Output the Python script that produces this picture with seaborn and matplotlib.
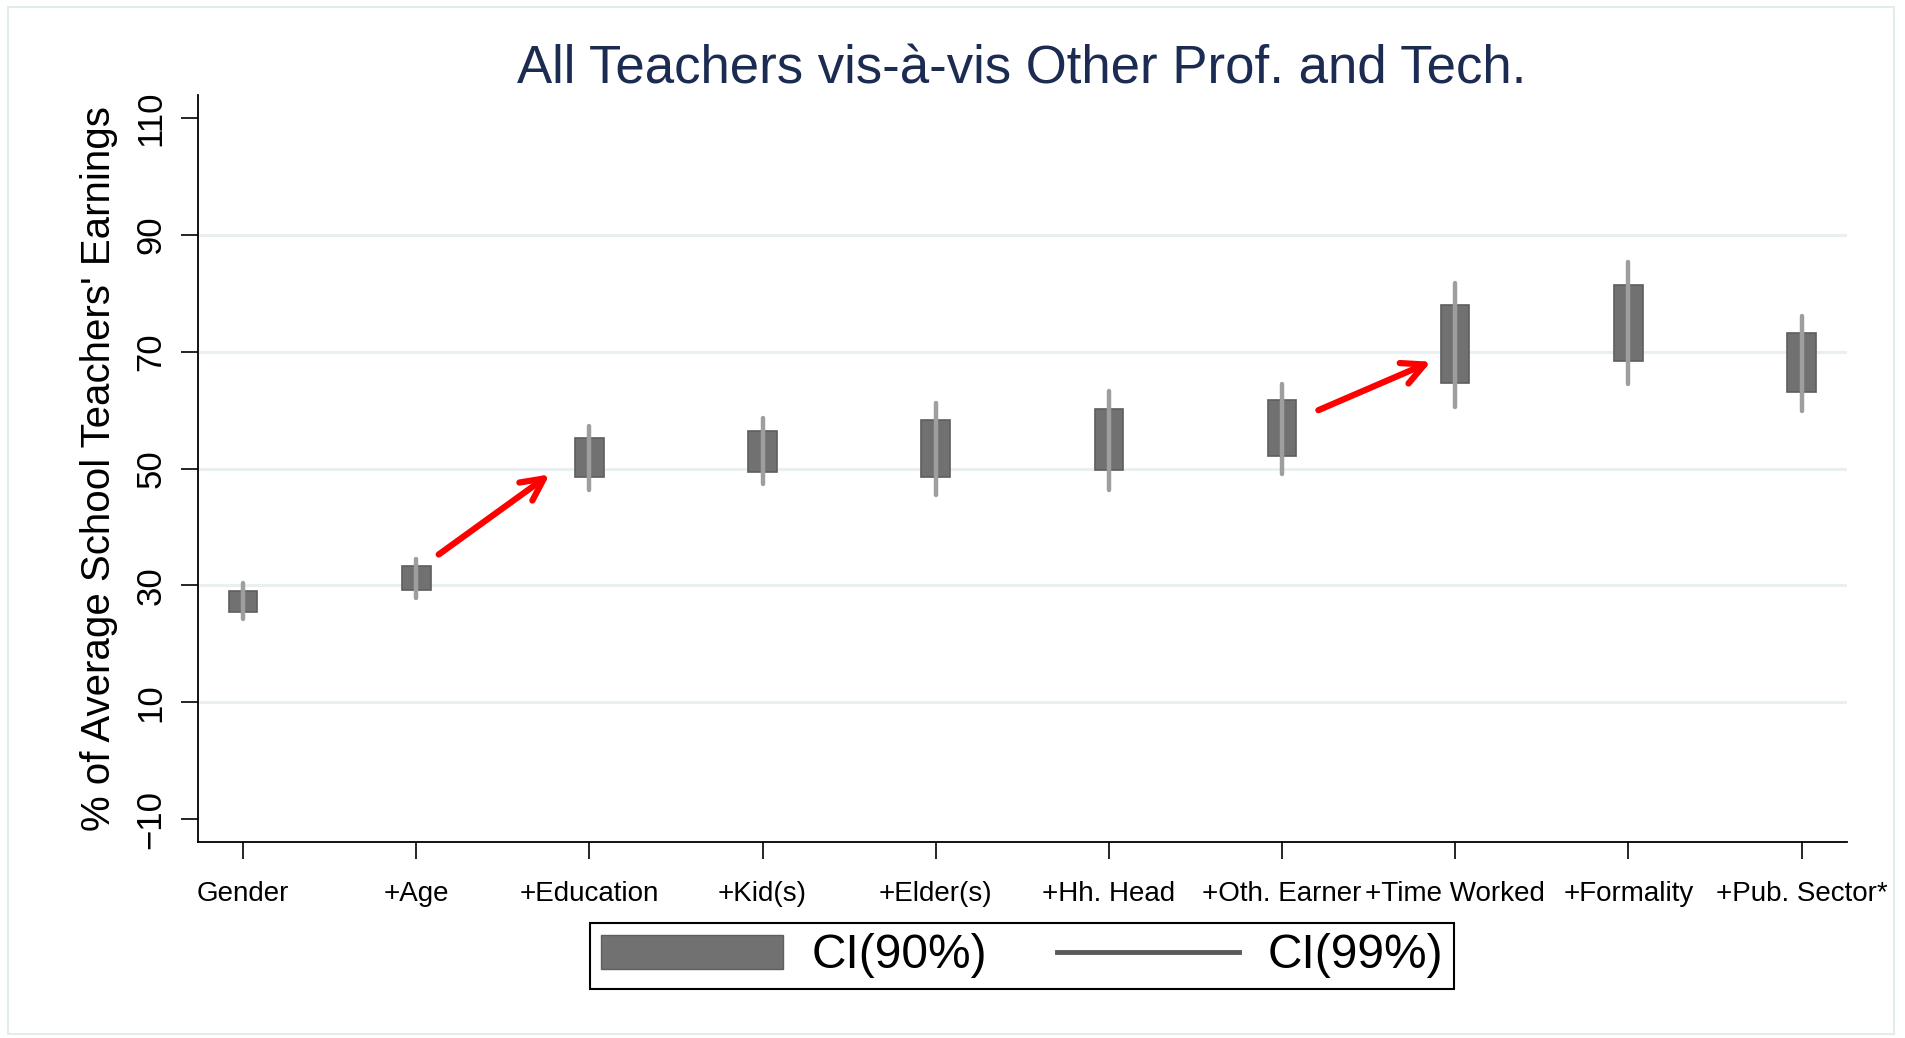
import matplotlib
matplotlib.use('Agg')
import matplotlib.pyplot as plt
from matplotlib.patches import Patch, Rectangle
from matplotlib.lines import Line2D
import numpy as np
import pandas as pd
import seaborn as sns

# specification labels (cumulative controls)
categories = ['Gender', '+Age', '+Education', '+Kid(s)', '+Elder(s)', '+Hh. Head',
              '+Oth. Earner', '+Time Worked', '+Formality', '+Pub. Sector*']

# 90% confidence interval (box)
ci90_low = [25.4, 29.2, 48.6, 49.5, 48.5, 49.8, 52.1, 64.6, 68.4, 63.1]
ci90_high = [29.1, 33.3, 55.2, 56.5, 58.3, 60.2, 61.7, 78.0, 81.5, 73.2]

# 99% confidence interval (whisker)
ci99_low = [24.2, 27.9, 46.4, 47.3, 45.5, 46.3, 49.0, 60.6, 64.5, 59.9]
ci99_high = [30.5, 34.6, 57.3, 58.7, 61.3, 63.3, 64.4, 81.7, 85.3, 76.2]

y_ticks = [-10, 10, 30, 50, 70, 90, 110]
grid_levels = [10, 30, 50, 70, 90]

# red annotation arrows, start and tip in data units
arrow_from = [(1.13, 35.3), (6.21, 60.0)]
arrow_to = [(1.77, 49.0), (6.86, 68.3)]

BOX = '#717171'
BOX_EDGE = '#5e5e5e'
WHISKER = '#9e9e9e'
GRID = '#e8f0f2'
TITLE = '#1c2b52'

plt.rcParams['font.family'] = ['Liberation Sans', 'DejaVu Sans']

df = pd.DataFrame({
    'spec': categories,
    'lo90': ci90_low,
    'hi90': ci90_high,
    'lo99': ci99_low,
    'hi99': ci99_high,
})
df['span90'] = df['hi90'] - df['lo90']

fig = plt.figure(figsize=(19.06, 10.38), dpi=100)
ax = fig.add_axes([0.1039, 0.1884, 0.9688 - 0.1039, 0.9087 - 0.1884])

# light border round the whole graph region (Stata style)
fig.patches.append(Rectangle((8 / 1906, 1 - 1034 / 1038), 1886 / 1906, 1027 / 1038,
                             transform=fig.transFigure, fill=False,
                             edgecolor='#e3eced', linewidth=1.5))

for lvl in grid_levels:
    ax.axhline(lvl, color=GRID, linewidth=2.2, zorder=0)

# 90% CI boxes
sns.barplot(data=df, x='spec', y='span90', bottom=df['lo90'].values,
            order=categories, color=BOX, saturation=1, width=0.165,
            edgecolor=BOX_EDGE, linewidth=1.2, errorbar=None, ax=ax, zorder=2)

# 99% CI whiskers
xpos = np.arange(len(categories))
ax.vlines(xpos, df['lo99'], df['hi99'], color=WHISKER, linewidth=3.2,
          capstyle='round', zorder=3)

for (x0, y0), (x1, y1) in zip(arrow_from, arrow_to):
    ax.annotate('', xy=(x1, y1), xytext=(x0, y0),
                arrowprops=dict(arrowstyle='->', color='#ff0000', lw=4.5,
                                mutation_scale=40, shrinkA=0, shrinkB=0,
                                capstyle='round'),
                zorder=4)

ax.set_xlim(-0.26, 9.26)
ax.set_ylim(-14, 114)
ax.set_yticks(y_ticks)
ax.set_yticklabels([str(t).replace('-', '\u2212') for t in y_ticks],
                   rotation=90, va='center', fontsize=25)
ax.set_xticks(xpos)
ax.set_xticklabels(categories, fontsize=20)
ax.tick_params(axis='y', length=12, width=1.2, pad=10, color='black')
ax.tick_params(axis='x', length=12, width=1.2, pad=16, color='black')
ax.set_xlabel('')
ax.set_ylabel("% of Average School Teachers' Earnings", fontsize=29, labelpad=12)

for side in ['top', 'right']:
    ax.spines[side].set_visible(False)
for side in ['left', 'bottom']:
    ax.spines[side].set_linewidth(1.3)
    ax.spines[side].set_color('black')
ax.grid(False)

fig.text(1022 / 1906, 1 - 83 / 1038, 'All Teachers vis-\u00e0-vis Other Prof. and Tech.',
         ha='center', va='baseline', fontsize=38, color=TITLE)

handles = [Patch(facecolor=BOX, edgecolor=BOX_EDGE, linewidth=1),
           Line2D([0], [0], color='#5a5a5a', linewidth=3.5)]
leg = fig.legend(handles, ['CI(90%)', 'CI(99%)'], loc='center',
                 bbox_to_anchor=(1022 / 1906, 1 - 956 / 1038), ncol=2,
                 fontsize=34.5, frameon=True, fancybox=False, framealpha=1,
                 edgecolor='black', handlelength=3.8, handleheight=0.72,
                 handletextpad=0.6, columnspacing=1.45, borderpad=0.22,
                 borderaxespad=0)
leg.get_frame().set_linewidth(1.5)

fig.savefig('out.png', dpi=100, facecolor='white')
